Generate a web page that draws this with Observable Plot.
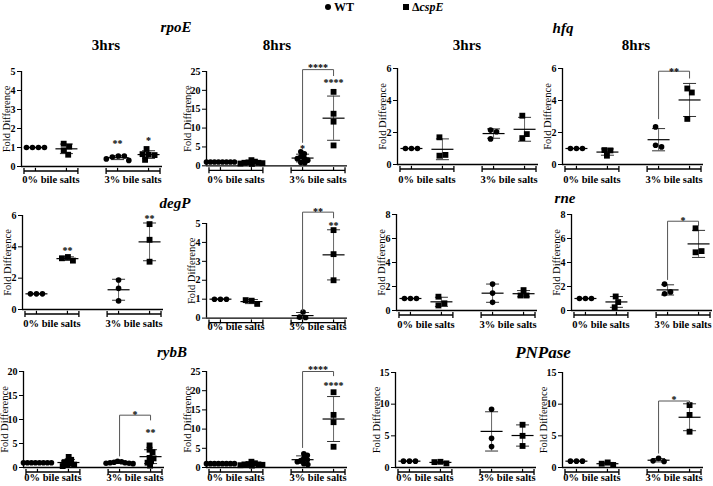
<!DOCTYPE html>
<html><head><meta charset="utf-8">
<script src="https://cdn.jsdelivr.net/npm/d3@7"></script>
<script src="https://cdn.jsdelivr.net/npm/@observablehq/plot@0.6"></script>
<style>
body{margin:0;background:#fff;}
#wrap{position:relative;width:713px;height:486px;overflow:hidden;font-family:"Liberation Serif","Times New Roman",serif;color:#000;}
.t{position:absolute;transform:translate(-50%,-50%);white-space:nowrap;font-weight:bold;line-height:1;}
.g{font-style:italic;font-size:15px;}
.h{font-size:15px;}
.p{position:absolute;}
.lg{position:absolute;font-weight:bold;font-size:12px;line-height:1;white-space:nowrap;transform:translateY(-50%);}
.sym{position:absolute;background:#000;}
</style></head><body><div id="wrap"></div>
<script>
// ---------- data ----------
const strains = ["WT", "ΔcspE"];
const conditions = ["0% bile salts", "3% bile salts"];
const genes = ["rpoE", "hfq", "degP", "rne", "rybB", "PNPase"];
const times = ["3hrs", "8hrs"];
const yLabel = "Fold Difference";

// each: [WT 0%, ΔcspE 0%, WT 3%, ΔcspE 3%]
const rpoE_3h = [[1,1,1,1],[1.2,1.05,0.85,0.62],[0.55,0.55,0.5,0.32,0.4],[0.92,0.62,0.65,0.6,0.35]];
const rpoE_8h = [[1,1,1,1,1,1,1,1],[1.5,1.1,0.9,0.8,0.8,0.7,0.6,0.5],[3.7,3.2,2.4,2.0,1.9,1.5,0.9,0.8],[19.6,13.8,11.7,5.4]];
const hfq_3h = [[1,1,1],[1.7,0.55,0.6],[2.15,2.05,1.6],[3.05,1.65,1.9]];
const hfq_8h = [[1,1,1],[0.9,0.88,0.55],[2.35,1.2,1.1],[4.75,4.5,2.85]];
const degP_3h = [[1,1,1],[3.35,3.12,3.27],[1.88,1.35,0.55],[5.45,4.45,3.05]];
const degP_8h = [[1,1,1],[0.92,0.75,0.95],[0.32,0.03,0.05],[4.65,3.38,2.0]];
const rne_3h = [[1,1,1],[1.15,0.42,0.6],[2.2,1.45,0.68],[1.7,1.25,1.25]];
const rne_8h = [[1,1,1],[1.17,0.7,0.27],[2.2,1.4,1.55],[6.85,4.85,4.95]];
const rybB_3h = [[1,1,1,1,1,1,1,1],[2.2,1.6,1.3,1.0,0.8,0.6,0.5,0.3],[1.3,1.2,1.1,1.0,1.0,0.9,0.9,0.8],[4.6,3.7,3.2,2.0,1.9,1.3,1.0,0.4]];
const rybB_8h = [[1,1,1,1,1,1,1,1],[1.5,1.1,0.9,0.8,0.8,0.7,0.6,0.5],[3.6,3.2,2.4,2.0,1.8,1.5,1.0,0.8],[19.6,13.7,11.8,5.4]];
const PNPase_3h = [[1,1,1],[0.9,0.65,0.85],[9.2,4.6,3.3],[6.75,5.0,3.4]];
const PNPase_8h = [[1,1,1],[0.8,0.4,0.6],[1.45,0.95,1.05],[9.85,8.3,5.65]];

// y tick labels
const ticks_rpoE_3h = [0,1,2,3,4,5];
const ticks_rpoE_8h = [0,5,10,15,20,25];
const ticks_hfq = [0,2,4,6];
const ticks_degP_3h = [0,2,4,6];
const ticks_degP_8h = [0,1,2,3,4,5];
const ticks_rne = [0,2,4,6,8];
const ticks_rybB_3h = [0,5,10,15,20];
const ticks_rybB_8h = [0,5,10,15,20,25];
const ticks_PNPase = [0,5,10,15];

// significance stars above a group: [group index, y, label]
const stars_rpoE_3h = [[2,1.37,"**"],[3,1.49,"*"]];
const stars_rpoE_8h = [[2,5.3,"*"],[3,22.7,"****"]];
const stars_degP_3h = [[1,3.94,"**"],[3,6.0,"**"]];
const stars_degP_8h = [[3,5.05,"**"]];
const stars_rybB_3h = [[3,7.8,"**"]];
const stars_rybB_8h = [[3,22.1,"****"]];
// WT 3% vs ΔcspE 3% comparison: [left leg bottom, top, right leg bottom, label, label y]
const sig_rpoE_8h = [6.2, 25.5, 23.9, "****", 26.8];
const sig_hfq_8h = [2.86, 5.83, 5.4, "**", 6.0];
const sig_degP_8h = [0.39, 5.6, 5.3, "**", 5.8];
const sig_rne_8h = [2.58, 7.44, 7.08, "*", 7.75];
const sig_rybB_3h = [2.4, 10.9, 9.9, "*", 11.7];
const sig_rybB_8h = [5.2, 25.0, 23.9, "****", 26.3];
const sig_PNPase_8h = [2.27, 10.5, 10.1, "*", 11.1];

const panels = [
  {values: rpoE_3h, ticks: ticks_rpoE_3h, stars: stars_rpoE_3h, sig: null},
  {values: rpoE_8h, ticks: ticks_rpoE_8h, stars: stars_rpoE_8h, sig: sig_rpoE_8h},
  {values: hfq_3h, ticks: ticks_hfq, stars: [], sig: null},
  {values: hfq_8h, ticks: ticks_hfq, stars: [], sig: sig_hfq_8h},
  {values: degP_3h, ticks: ticks_degP_3h, stars: stars_degP_3h, sig: null},
  {values: degP_8h, ticks: ticks_degP_8h, stars: stars_degP_8h, sig: sig_degP_8h},
  {values: rne_3h, ticks: ticks_rne, stars: [], sig: null},
  {values: rne_8h, ticks: ticks_rne, stars: [], sig: sig_rne_8h},
  {values: rybB_3h, ticks: ticks_rybB_3h, stars: stars_rybB_3h, sig: sig_rybB_3h},
  {values: rybB_8h, ticks: ticks_rybB_8h, stars: stars_rybB_8h, sig: sig_rybB_8h},
  {values: PNPase_3h, ticks: ticks_PNPase, stars: [], sig: null},
  {values: PNPase_8h, ticks: ticks_PNPase, stars: [], sig: sig_PNPase_8h}
];

// ---------- layout (pixels) ----------
const layout = [
  {x0:21, top:71, bot:166, lab:179}, {x0:206, top:70.7, bot:165, lab:179},
  {x0:397, top:68, bot:164, lab:179}, {x0:562, top:68, bot:164, lab:179},
  {x0:22, top:215, bot:309, lab:323}, {x0:206, top:222.7, bot:317.3, lab:326},
  {x0:396, top:214, bot:310, lab:324}, {x0:571, top:214, bot:310, lab:324},
  {x0:22.7, top:370.7, bot:466.7, lab:477}, {x0:206, top:370.7, bot:466.7, lab:477},
  {x0:395, top:371.7, bot:466.7, lab:477}, {x0:562, top:371.7, bot:466.7, lab:477}
];
const FRAME_W = 141;
const GAP = 2.65;
const X_DOMAIN = [-0.45, 4.1];
const PAD = 0.37;
const slotOf = (c, s) => c * GAP + s;

const hline = {draw(ctx, size){ const r = Math.sqrt(size/Math.PI); ctx.moveTo(-r,0); ctx.lineTo(r,0); }};
const vline = {draw(ctx, size){ const r = Math.sqrt(size/Math.PI); ctx.moveTo(0,-r); ctx.lineTo(0,r); }};
const upTick = {draw(ctx, size){ const r = Math.sqrt(size/Math.PI); ctx.moveTo(0,0); ctx.lineTo(0,-r); }};

const wrap = document.getElementById("wrap");
const FONT = '"Liberation Serif","Times New Roman",serif';

function drawPanel(p, L) {
  const ymax = p.ticks[p.ticks.length - 1];
  const H = L.bot - L.top;
  const W = FRAME_W;
  const mL = 32, mR = 8, mT = 30, mB = 20;
  const unit = W / (X_DOMAIN[1] - X_DOMAIN[0]);
  const pts = [], stats = [];
  p.values.forEach((arr, gi) => {
    const c = Math.floor(gi / 2), s = gi % 2;
    const xc = slotOf(c, s);
    const D = arr.length > 5 ? 3.6 : 6;
    const placed = [];
    arr.forEach(v => {
      const py = v / ymax * H;
      let off = 0;
      for (let k = 0; k < 400; k++) {
        const cand = (k % 2 ? 1 : -1) * Math.ceil(k / 2) * 0.5;
        if (placed.every(q => Math.hypot(q.ox - cand, q.py - py) >= D)) { off = cand; break; }
      }
      placed.push({ox: off, py, v});
    });
    const mid = (d3.min(placed, q => q.ox) + d3.max(placed, q => q.ox)) / 2;
    placed.forEach(q => pts.push({x: xc + (q.ox - mid) / unit, y: q.v, strain: strains[s]}));
    const m = d3.mean(arr), sd = arr.length > 1 ? d3.deviation(arr) : 0;
    stats.push({x: xc, mean: m, lo: m - sd, hi: m + sd});
  });
  const brk = conditions.map((label, c) => {
    const a = slotOf(c, 0) - PAD, b = slotOf(c, 1) + PAD;
    return {x1: a, x2: b, cx: (a + b) / 2, label};
  });
  const ends = brk.flatMap(d => [{x: d.x1}, {x: d.x2}]);
  const cols = [0,1].flatMap(c => [0,1].map(s => ({x: slotOf(c, s)})));
  const starData = p.stars.map(([g, y, label]) => ({x: cols[g].x, y, label}));
  const maxDigits = d3.max(p.ticks, t => String(t).length);
  const labOff = maxDigits > 1 ? 19 : 15;
  const bdy = 4.5;

  const marks = [
    Plot.ruleY([0], {stroke: "#000", strokeWidth: 1.3}),
    Plot.ruleX([X_DOMAIN[0]], {stroke: "#000", strokeWidth: 1.3}),
    Plot.link(brk, {x1: "x1", x2: "x2", y1: () => 0, y2: () => 0, dy: bdy, stroke: "#000", strokeWidth: 1.3}),
    Plot.dot(ends, {x: "x", y: () => 0, dy: bdy, symbol: vline, r: 3, fill: "none", stroke: "#000", strokeWidth: 1.3}),
    Plot.dot(cols, {x: "x", y: () => 0, dy: bdy, symbol: upTick, r: 3.2, fill: "none", stroke: "#000", strokeWidth: 1.2}),
    Plot.text(brk, {x: "cx", y: () => 0, text: "label", dy: L.lab - L.bot, fontSize: 10.5, fontWeight: "bold"}),
    Plot.text([yLabel], {frameAnchor: "left", rotate: -90, dx: -labOff, textAnchor: "middle", fontSize: 10.5, fontWeight: "normal"}),
    Plot.ruleX(stats, {x: "x", y1: "lo", y2: "hi", stroke: "#666", strokeWidth: 1}),
    Plot.dot(stats, {x: "x", y: "hi", symbol: hline, r: 6.5, fill: "none", stroke: "#333", strokeWidth: 1}),
    Plot.dot(stats, {x: "x", y: "lo", symbol: hline, r: 6.5, fill: "none", stroke: "#333", strokeWidth: 1}),
    Plot.dot(stats, {x: "x", y: "mean", symbol: hline, r: 11, fill: "none", stroke: "#000", strokeWidth: 1.2}),
    Plot.dot(pts.filter(d => d.strain === strains[0]), {x: "x", y: "y", symbol: "circle", r: 2.8, fill: "#000", stroke: "none"}),
    Plot.dot(pts.filter(d => d.strain === strains[1]), {x: "x", y: "y", symbol: "square", r: 3.3, fill: "#000", stroke: "none"}),
    Plot.text(starData, {x: "x", y: "y", text: "label", fontSize: 10, fontWeight: "bold", dy: 3})
  ];
  if (p.sig) {
    const [lb, top, rb, label, ly] = p.sig;
    const a = cols[2].x, b = cols[3].x;
    marks.push(Plot.line([{x: a, y: lb}, {x: a, y: top}, {x: b, y: top}, {x: b, y: rb}], {x: "x", y: "y", stroke: "#555", strokeWidth: 1}));
    marks.push(Plot.text([{x: (a + b) / 2, y: ly, label}], {x: "x", y: "y", text: "label", fontSize: 10, fontWeight: "bold", dy: 3}));
  }

  const svg = Plot.plot({
    width: mL + W + mR,
    height: mT + H + mB,
    marginLeft: mL, marginRight: mR, marginTop: mT, marginBottom: mB,
    style: {fontFamily: FONT, fontSize: "10px", fontWeight: "bold", color: "#000", background: "transparent", overflow: "visible"},
    x: {domain: X_DOMAIN, axis: null},
    y: {domain: [0, ymax], ticks: p.ticks, tickSize: 4, tickPadding: 2, label: null, tickFormat: d => String(d)},
    marks
  });
  svg.classList.add("p");
  svg.style.left = (L.x0 - mL) + "px";
  svg.style.top = (L.top - mT) + "px";
  wrap.appendChild(svg);
}

panels.forEach((p, i) => drawPanel(p, layout[i]));

// ---------- titles & legend ----------
function addText(txt, x, y, cls, size) {
  const d = document.createElement("div");
  d.className = "t " + cls;
  d.textContent = txt;
  d.style.left = x + "px"; d.style.top = y + "px";
  if (size) d.style.fontSize = size + "px";
  wrap.appendChild(d);
}
addText(genes[0], 176, 27, "g");
addText(genes[1], 563, 28, "g");
addText(genes[2], 175, 203, "g");
addText(genes[3], 565, 198, "g");
addText(genes[4], 172, 352, "g");
addText(genes[5], 543, 352, "g", 17);
addText(times[0], 106, 45, "h");
addText(times[1], 277, 45, "h");
addText(times[0], 467, 45, "h");
addText(times[1], 636, 45, "h");

function addLegend(x, y, shape, html) {
  const s = document.createElement("div");
  s.className = "sym";
  s.style.left = (x - 3) + "px"; s.style.top = (y - 3) + "px";
  s.style.width = "6px"; s.style.height = "6px";
  if (shape === "circle") s.style.borderRadius = "50%";
  wrap.appendChild(s);
  const t = document.createElement("div");
  t.className = "lg";
  t.innerHTML = html;
  t.style.left = (x + 6) + "px"; t.style.top = y + "px";
  wrap.appendChild(t);
}
addLegend(328, 7, "circle", strains[0]);
addLegend(406, 7, "square", "Δ<i>cspE</i>");
</script>
</body></html>
